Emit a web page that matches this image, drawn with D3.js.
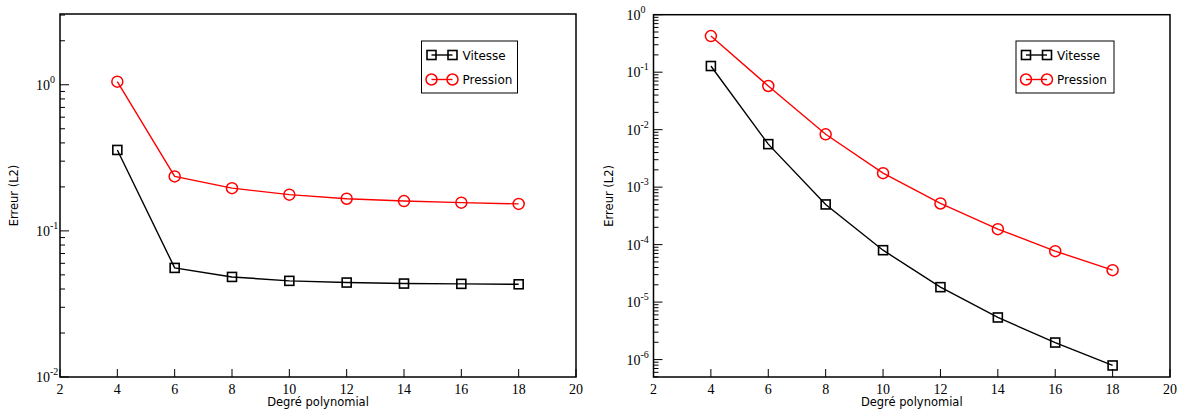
<!DOCTYPE html>
<html><head><meta charset="utf-8">
<script src="https://cdn.jsdelivr.net/npm/d3@7"></script>
<style>body{margin:0;background:#fff}svg{display:block}</style>
</head><body>
<svg id="c" width="1183" height="409"></svg>
<script>
const degrees = [4, 6, 8, 10, 12, 14, 16, 18];
const leftVitesse = [0.358, 0.0558, 0.0484, 0.0455, 0.0443, 0.0436, 0.0434, 0.0431];
const leftPression = [1.05, 0.236, 0.196, 0.177, 0.166, 0.160, 0.156, 0.153];
const rightVitesse = [0.128, 0.0056, 0.00050, 0.000080, 0.0000182, 0.0000054, 0.00000198, 0.00000079];
const rightPression = [0.425, 0.0575, 0.0083, 0.00175, 0.00052, 0.000186, 0.000077, 0.000036];
const xTicks = [2, 4, 6, 8, 10, 12, 14, 16, 18, 20];
const leftYDecades = [0, -1, -2];
const rightYDecades = [0, -1, -2, -3, -4, -5, -6];
const seriesNames = ["Vitesse", "Pression"];

const svg = d3.select("#c");
const serif = "'Liberation Serif','Times New Roman',serif";
const sans = "'DejaVu Sans',Verdana,sans-serif";

function panel(opts) {
  const g = svg.append("g");
  const x = d3.scaleLinear().domain([2, 20]).range([opts.x0, opts.x1]);
  const y = d3.scaleLog().domain(opts.ydom).range([opts.y1, opts.y0]);

  const minors = [];
  const lo = Math.floor(Math.log10(opts.ydom[0])), hi = Math.ceil(Math.log10(opts.ydom[1]));
  for (let e = lo; e <= hi; e++) {
    for (let m = 1; m <= 9; m++) {
      const v = m * Math.pow(10, e);
      if (v >= opts.ydom[0] * 0.999 && v <= opts.ydom[1] * 1.001) minors.push({v, major: m === 1});
    }
  }
  g.selectAll("line.yt").data(minors).join("line")
    .attr("x1", opts.x0).attr("x2", d => opts.x0 + (d.major ? 9 : 5))
    .attr("y1", d => y(d.v)).attr("y2", d => y(d.v))
    .attr("stroke", "#000").attr("stroke-width", 1);

  g.selectAll("line.xt").data(xTicks).join("line")
    .attr("x1", d => x(d)).attr("x2", d => x(d))
    .attr("y1", opts.y1).attr("y2", opts.y1 - 8)
    .attr("stroke", "#000").attr("stroke-width", 1);
  g.selectAll("text.xl").data(xTicks).join("text")
    .attr("x", d => x(d)).attr("y", opts.y1 + 17)
    .attr("text-anchor", "middle").attr("font-family", serif).attr("font-size", 14)
    .text(d => d);

  const yl = g.selectAll("text.yl").data(opts.decades).join("text")
    .attr("x", opts.x0 - 5 - opts.labW).attr("y", d => y(Math.pow(10, d)) + 5)
    .attr("font-family", serif).attr("font-size", 14);
  yl.append("tspan").text("10");
  yl.append("tspan").attr("dy", -7).attr("font-size", 10).text(d => d);

  g.append("rect").attr("x", opts.x0).attr("y", opts.y0)
    .attr("width", opts.x1 - opts.x0).attr("height", opts.y1 - opts.y0)
    .attr("fill", "none").attr("stroke", "#000").attr("stroke-width", 1.5);

  g.append("text").attr("x", (opts.x0 + opts.x1) / 2).attr("y", 406)
    .attr("text-anchor", "middle").attr("font-family", sans).attr("font-size", 11.5)
    .text("Degré polynomial");
  g.append("text").attr("transform", `translate(${opts.titleX},${(opts.y0 + opts.y1) / 2}) rotate(-90)`)
    .attr("text-anchor", "middle").attr("font-family", sans).attr("font-size", 11.5)
    .text("Erreur (L2)");

  const line = d3.line().x(d => x(d[0])).y(d => y(d[1]));
  const series = [
    {name: seriesNames[0], vals: opts.vit, color: "#000", shape: "square"},
    {name: seriesNames[1], vals: opts.pre, color: "#ff0000", shape: "circle"}
  ];
  series.forEach(s => {
    const pts = degrees.map((d, i) => [d, s.vals[i]]);
    g.append("path").attr("d", line(pts)).attr("fill", "none")
      .attr("stroke", s.color).attr("stroke-width", 1.4);
    drawMarkers(g, pts.map(p => [x(p[0]), y(p[1])]), s);
  });

  const L = opts.legend;
  g.append("rect").attr("x", L.x).attr("y", L.y).attr("width", L.w).attr("height", L.h)
    .attr("fill", "#fff").attr("stroke", "#000").attr("stroke-width", 1);
  series.forEach((s, i) => {
    const yy = L.y + 14 + i * 24.5;
    const xa = L.x + 10, xb = L.x + 31;
    g.append("line").attr("x1", xa).attr("x2", xb).attr("y1", yy).attr("y2", yy)
      .attr("stroke", s.color).attr("stroke-width", 1.4);
    drawMarkers(g, [[xa, yy], [xb, yy]], s);
    g.append("text").attr("x", L.x + 41).attr("y", yy + 4.5)
      .attr("font-family", sans).attr("font-size", 12).text(s.name);
  });
}

function drawMarkers(g, pts, s) {
  if (s.shape === "square") {
    g.selectAll(null).data(pts).join("rect")
      .attr("x", d => d[0] - 4.5).attr("y", d => d[1] - 4.5)
      .attr("width", 9).attr("height", 9)
      .attr("fill", "none").attr("stroke", s.color).attr("stroke-width", 1.6);
  } else {
    g.selectAll(null).data(pts).join("circle")
      .attr("cx", d => d[0]).attr("cy", d => d[1]).attr("r", 5.5)
      .attr("fill", "none").attr("stroke", s.color).attr("stroke-width", 1.5);
  }
}

panel({x0: 60, x1: 576, y0: 14, y1: 377, ydom: [0.01, 3.05], decades: leftYDecades,
  vit: leftVitesse, pre: leftPression, labW: 19, titleX: 18,
  legend: {x: 421.5, y: 41, w: 96, h: 52}});
panel({x0: 653.5, x1: 1170, y0: 14.7, y1: 377, ydom: [Math.pow(10, -6.303), 1], decades: rightYDecades,
  vit: rightVitesse, pre: rightPression, labW: 22, titleX: 613,
  legend: {x: 1016, y: 41, w: 98, h: 52}});
</script>
</body></html>
